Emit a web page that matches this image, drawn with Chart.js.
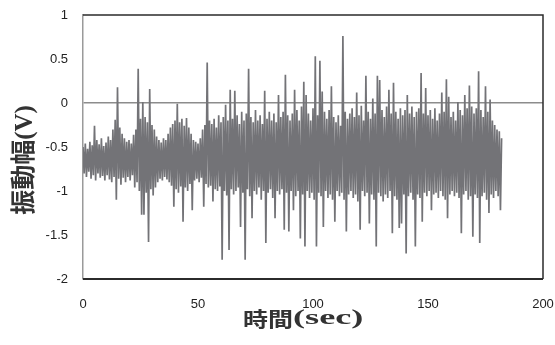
<!DOCTYPE html>
<html>
<head>
<meta charset="utf-8">
<script src="https://cdn.jsdelivr.net/npm/chart.js@4/dist/chart.umd.min.js"></script>
<style>
  body { margin: 0; background: #fff; }
  canvas { display: block; }
</style>
</head>
<body>
<canvas id="waveChart" width="555" height="345"></canvas>
<script>
// Titles
const xTitleJa = '時間';
const xTitleUnit = '(sec)';
const yTitle = '振動幅(V)';

// Axis ranges
const xMin = 0, xMax = 200, xStep = 50;
const yMin = -2, yMax = 1, yStep = 0.5;

// Sampling interval of the trace, seconds
const sampleStep = 0.5;

// Amplitude (V): one upper / lower swing per second
const amplitude = [
    // 0 - 9 s
    -0.50, -0.80, -0.46, -0.84, -0.52, -0.78, -0.44, -0.86, -0.48, -0.82,
    -0.26, -0.88, -0.42, -0.80, -0.47, -0.85, -0.40, -0.83, -0.49, -0.88,
    // 10 - 19 s
    -0.45, -0.82, -0.38, -0.87, -0.42, -0.90, -0.30, -0.84, -0.19, -1.10,
     0.18, -0.86, -0.28, -0.93, -0.35, -0.85, -0.40, -0.90, -0.44, -0.84,
    // 20 - 29 s
    -0.42, -0.88, -0.46, -0.82, -0.36, -0.96, -0.30, -0.90,  0.39, -1.00,
    -0.18, -1.27,  0.01, -1.27, -0.16, -1.02, -0.22, -1.58,  0.16, -0.98,
    // 30 - 39 s
    -0.25, -1.05, -0.30, -0.96, -0.38, -0.90, -0.42, -0.86, -0.45, -0.88,
    -0.40, -0.84, -0.42, -0.87, -0.35, -0.90, -0.28, -0.94, -0.24, -1.18,
    // 40 - 49 s
    -0.20, -0.98, -0.01, -1.02, -0.22, -0.95, -0.18, -1.35, -0.26, -0.96,
    -0.17, -1.00, -0.28, -0.92, -0.35, -1.22, -0.42, -0.88, -0.44, -0.86,
    // 50 - 59 s
    -0.46, -0.90, -0.40, -0.85, -0.30, -1.18, -0.25, -0.92,  0.46, -0.96,
    -0.20, -0.94, -0.24, -1.12, -0.18, -0.98, -0.28, -1.00, -0.14, -0.95,
    // 60 - 69 s
    -0.22, -1.78, -0.16, -1.00, -0.02, -1.05, -0.20, -1.67,  0.15, -0.98,
    -0.18, -1.04,  0.14, -1.00, -0.14, -0.96, -0.24, -1.41, -0.10, -1.02,
    // 70 - 79 s
    -0.20, -1.78, -0.12, -0.98,  0.39, -1.06, -0.16, -1.31, -0.22, -1.00,
    -0.08, -1.04, -0.20, -0.96, -0.14, -1.10, -0.24, -1.00,  0.14, -1.59,
    // 80 - 89 s
    -0.18, -1.02, -0.10, -0.98, -0.20, -1.08, -0.12, -1.31, -0.22, -1.00,
     0.09, -1.04, -0.16, -0.98, -0.10, -1.44,  0.32, -1.02, -0.14, -1.46,
    // 90 - 99 s
    -0.20, -1.00, -0.12, -1.22,  0.15, -1.06, -0.08, -1.00, -0.20, -1.54,
    -0.04, -1.04,  0.24, -1.63,  0.09, -1.00, -0.12, -1.08, -0.20, -1.02,
    // 100 - 109 s
    -0.06, -1.10,  0.53, -1.63, -0.14, -1.02,  0.48, -1.06,  0.13, -1.41,
    -0.10, -1.00, -0.18, -1.08, -0.08, -1.04,  0.19, -1.10, -0.16, -1.35,
    // 110 - 119 s
    -0.22, -1.00, -0.14, -1.06, -0.26, -1.02,  0.76, -1.10, -0.10, -1.46,
    -0.18, -1.04, -0.12, -1.00, -0.06, -1.08, -0.16, -1.04,  0.12, -1.12,
    // 120 - 129 s
    -0.14, -1.44, -0.03, -1.00, -0.20, -1.06,  0.31, -1.02, -0.10, -1.37,
    -0.18, -1.04,  0.05, -1.10, -0.12, -1.63,  0.31, -1.02,  0.26, -1.06,
    // 130 - 139 s
    -0.08, -1.12, -0.16, -1.04, -0.04, -1.08,  0.15, -1.00, -0.12, -1.48,
     0.23, -1.06, -0.10, -1.10, -0.18, -1.42, -0.06, -1.37, -0.14, -1.04,
    // 140 - 149 s
    -0.08, -1.71,  0.09, -1.06, -0.12, -1.02, -0.04, -1.10, -0.16, -1.63,
    -0.10, -1.04, -0.06, -1.08,  0.34, -1.35, -0.12, -1.02,  0.17, -1.06,
    // 150 - 159 s
    -0.14, -1.00, -0.08, -1.22, -0.18, -1.04, -0.06, -1.02, -0.20, -1.08,
    -0.12, -1.00,  0.12, -1.06, -0.10, -1.10,  0.27, -1.31,  0.07, -1.04,
    // 160 - 169 s
    -0.16, -1.00, -0.10, -1.06, -0.20, -1.02,  0.01, -1.08, -0.08, -1.48,
    -0.14, -1.04,  0.09, -1.00, -0.06, -1.10,  0.20, -1.06, -0.04, -1.52,
    // 170 - 179 s
    -0.12, -1.04, -0.06, -1.08,  0.36, -1.59, -0.08, -1.06, -0.16, -1.02,
     0.19, -1.10, -0.10, -1.25,  0.04, -1.04, -0.20, -1.08, -0.25, -1.00,
    // 180 - 182 s
    -0.30, -1.06, -0.32, -1.22, -0.40
];

const points = amplitude.map((v, i) => ({ x: i * sampleStep, y: v }));

// Frame round the plot area (left side is the gray y axis line)
const plotFrame = {
    id: 'plotFrame',
    afterDatasetsDraw(chart) {
        const ctx = chart.ctx;
        const left = chart.scales.x.left, right = chart.scales.x.right;
        const top = chart.scales.y.top, bottom = chart.scales.y.bottom;
        ctx.save();
        ctx.strokeStyle = '#2b2b2b';
        ctx.lineWidth = 1.5;
        ctx.beginPath();
        ctx.moveTo(left, top);
        ctx.lineTo(right, top);
        ctx.lineTo(right, bottom);
        ctx.stroke();
        ctx.lineWidth = 2;
        ctx.beginPath();
        ctx.moveTo(left, bottom);
        ctx.lineTo(right, bottom);
        ctx.stroke();
        ctx.restore();
    }
};

// Axis titles, placed by hand to sit like the original
const axisTitles = {
    id: 'axisTitles',
    afterDraw(chart) {
        const ctx = chart.ctx;
        ctx.save();
        ctx.fillStyle = '#333';
        ctx.textBaseline = 'middle';

        // y title, rotated
        ctx.save();
        ctx.translate(26, 160);
        ctx.rotate(-Math.PI / 2);
        ctx.textAlign = 'center';
        ctx.font = 'bold 25px "Liberation Serif", "Noto Sans CJK JP", serif';
        ctx.fillText(yTitle, 0, 0);
        ctx.restore();

        // x title: kanji then unit, a bit squat and wide like the source
        ctx.textAlign = 'left';
        ctx.save();
        ctx.translate(243, 319);
        ctx.scale(1, 0.8);
        ctx.font = 'bold 25px "Noto Sans CJK JP", sans-serif';
        ctx.fillText(xTitleJa, 0, 0);
        ctx.restore();

        ctx.save();
        ctx.translate(293, 319);
        ctx.scale(1.45, 0.85);
        ctx.font = 'bold 25px "Liberation Serif", serif';
        ctx.fillText(xTitleUnit, 0, 0);
        ctx.restore();

        ctx.restore();
    }
};

new Chart(document.getElementById('waveChart'), {
    type: 'line',
    data: {
        datasets: [{
            data: points,
            borderColor: '#737377',
            borderWidth: 1.7,
            pointRadius: 0,
            tension: 0,
            fill: false
        }]
    },
    options: {
        responsive: false,
        animation: false,
        events: [],
        layout: { padding: { top: 15, right: 12, left: 0, bottom: 0 } },
        plugins: {
            legend: { display: false },
            tooltip: { enabled: false }
        },
        scales: {
            x: {
                type: 'linear',
                min: xMin,
                max: xMax,
                grid: { display: false },
                border: { display: false },
                ticks: {
                    stepSize: xStep,
                    padding: 10,
                    color: '#222',
                    font: { family: '"Liberation Sans", Arial, sans-serif', size: 13 }
                },
                afterFit: (scale) => {
                    scale.height = 66;
                    // no extra room for the end labels; the layout padding covers it
                    scale.paddingLeft = 0;
                    scale.paddingRight = 0;
                }
            },
            y: {
                min: yMin,
                max: yMax,
                grid: {
                    drawTicks: false,
                    lineWidth: 1.5,
                    color: (c) => c.tick && c.tick.value === 0 ? '#8c8c8c' : 'rgba(0,0,0,0)'
                },
                border: { display: true, color: '#9a9a9a', width: 1.5 },
                ticks: {
                    stepSize: yStep,
                    padding: 15,
                    color: '#222',
                    font: { family: '"Liberation Sans", Arial, sans-serif', size: 13 },
                    callback: (v) => String(v)
                },
                afterFit: (scale) => {
                    scale.width = 83;
                    scale.paddingTop = 0;
                    scale.paddingBottom = 0;
                }
            }
        }
    },
    plugins: [plotFrame, axisTitles]
});
</script>
</body>
</html>
